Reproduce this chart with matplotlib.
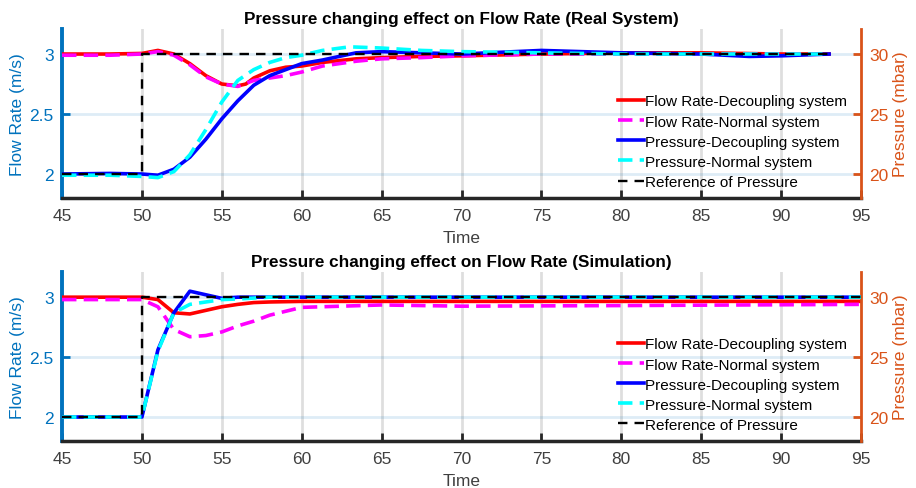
import matplotlib
matplotlib.use("Agg")
import matplotlib.pyplot as plt

plt.rcParams['font.family'] = ['Liberation Sans', 'DejaVu Sans']

# ---------------- Data: Real System ----------------
real_t_frd = [45, 48, 50, 51, 52, 53, 54, 55, 56, 56.5, 57, 58, 59, 60, 61.3, 63.4, 65, 67.5, 70, 75, 80, 85, 90, 93]
real_frd   = [3.0, 3.0, 3.005, 3.03, 3.0, 2.92, 2.82, 2.75, 2.735, 2.75, 2.80, 2.86, 2.89, 2.90, 2.93, 2.96, 2.97, 2.98, 2.985, 3.0, 3.01, 3.01, 3.0, 3.0]

real_t_frn = [45, 48, 50, 51, 52, 53, 54, 55, 56, 57, 58, 59, 60, 61.3, 63.4, 65, 67.5, 70, 75, 80, 85, 90, 93]
real_frn   = [2.99, 2.99, 3.0, 3.02, 2.99, 2.91, 2.81, 2.75, 2.73, 2.78, 2.80, 2.82, 2.85, 2.90, 2.94, 2.96, 2.97, 2.985, 3.0, 3.0, 3.0, 3.0, 3.0]

real_t_pd = [45, 48, 50, 51, 52, 53, 54, 55, 56, 57, 58, 59, 60, 61.3, 63.4, 65, 67.5, 70, 75, 80, 85, 88, 90, 93]
real_pd   = [20.0, 20.05, 20.0, 19.9, 20.4, 21.4, 22.9, 24.6, 26.1, 27.4, 28.2, 28.7, 29.2, 29.5, 30.1, 30.2, 30.1, 30.0, 30.3, 30.1, 30.0, 29.8, 29.85, 30.0]

real_t_pn = [45, 48, 50, 51, 52, 53, 54, 55, 56, 57, 58, 59, 60, 61.3, 63, 65, 67.5, 70, 75, 80, 85, 90, 93]
real_pn   = [19.9, 19.9, 19.8, 19.7, 20.2, 21.6, 23.7, 26.0, 27.8, 28.7, 29.3, 29.7, 29.9, 30.3, 30.6, 30.5, 30.3, 30.2, 30.1, 30.0, 30.0, 30.0, 30.0]

real_t_ref = [45, 50, 50, 93]
real_ref   = [20.0, 20.0, 30.0, 30.0]

# ---------------- Data: Simulation ----------------
sim_t_frd = [45, 50, 51, 52, 53, 54, 55, 56, 57, 58, 60, 70, 80, 95]
sim_frd   = [3.0, 3.0, 2.98, 2.87, 2.86, 2.89, 2.92, 2.94, 2.955, 2.96, 2.965, 2.965, 2.965, 2.965]

sim_t_frn = [45, 50, 51, 52, 53, 54, 55, 56, 57, 58, 60, 65, 70, 80, 95]
sim_frn   = [2.98, 2.98, 2.92, 2.73, 2.67, 2.68, 2.71, 2.76, 2.80, 2.85, 2.915, 2.935, 2.925, 2.93, 2.94]

sim_t_pd = [45, 50, 51, 52, 53, 54, 55, 56, 70, 95]
sim_pd   = [20.0, 20.0, 25.6, 28.7, 30.5, 30.2, 29.9, 30.0, 30.0, 30.0]

sim_t_pn = [45, 50, 51, 52, 53, 54, 55, 56, 58, 70, 95]
sim_pn   = [20.0, 20.0, 25.5, 28.7, 29.4, 29.6, 29.8, 29.85, 30.0, 30.0, 30.0]

sim_t_ref = [45, 50, 50, 95]
sim_ref   = [20.0, 20.0, 30.0, 30.0]

labels = ["Flow Rate-Decoupling system", "Flow Rate-Normal system",
          "Pressure-Decoupling system", "Pressure-Normal system",
          "Reference of Pressure"]
titles = ["Pressure changing effect on Flow Rate (Real System)",
          "Pressure changing effect on Flow Rate (Simulation)"]
xticks = [45, 50, 55, 60, 65, 70, 75, 80, 85, 90, 95]

BLUE_AX = (0, 0.447, 0.741)
ORANGE_AX = (0.85, 0.325, 0.098)

fig = plt.figure(figsize=(9.16, 4.89), dpi=100)
positions = [[0.0677, 0.593, 0.8723, 0.346], [0.0677, 0.0961, 0.8723, 0.3456]]

datasets = [
    (real_t_frd, real_frd, real_t_frn, real_frn, real_t_pd, real_pd, real_t_pn, real_pn, real_t_ref, real_ref),
    (sim_t_frd, sim_frd, sim_t_frn, sim_frn, sim_t_pd, sim_pd, sim_t_pn, sim_pn, sim_t_ref, sim_ref),
]

for i, (pos, d, title) in enumerate(zip(positions, datasets, titles)):
    ax = fig.add_axes(pos)
    ax2 = ax.twinx()
    tfd, fd, tfn, fn, tpd, pd_, tpn, pn, tref, ref = d
    lw = 2.6
    h1, = ax.plot(tfd, fd, color='red', lw=lw, label=labels[0], zorder=3)
    h2, = ax.plot(tfn, fn, color='magenta', lw=lw, ls=(0, (4, 2)), label=labels[1], zorder=3)
    h3, = ax2.plot(tpd, pd_, color='blue', lw=lw, label=labels[2], zorder=3)
    h4, = ax2.plot(tpn, pn, color='cyan', lw=lw, ls=(0, (4, 2)), label=labels[3], zorder=4)
    h5, = ax2.plot(tref, ref, color='black', lw=1.7, ls=(0, (4, 3)), label=labels[4], zorder=5)

    ax.set_xlim(45, 95)
    ax.set_ylim(1.8, 3.21)
    ax2.set_ylim(18, 32.1)
    ax.set_xticks(xticks)
    ax.set_yticks([2, 2.5, 3])
    ax.set_yticklabels(['2', '2.5', '3'])
    ax2.set_yticks([20, 25, 30])

    # grids
    for x in xticks[1:-1]:
        ax.axvline(x, color='0.15', alpha=0.15, lw=2, zorder=0)
    for y in [2, 2.5, 3]:
        ax.axhline(y, color=BLUE_AX, alpha=0.13, lw=2, zorder=0)

    for a in (ax, ax2):
        a.spines['top'].set_visible(False)
        a.set_facecolor('none')
    ax2.spines['left'].set_visible(False)
    ax2.spines['bottom'].set_visible(False)
    ax.spines['right'].set_visible(False)
    ax.spines['left'].set_color(BLUE_AX)
    ax.spines['left'].set_linewidth(2.8)
    ax.spines['bottom'].set_color('0.15')
    ax.spines['bottom'].set_linewidth(2.5)
    ax2.spines['right'].set_color(ORANGE_AX)
    ax2.spines['right'].set_linewidth(2)

    ax.tick_params(axis='x', direction='in', length=6, width=2, colors='0.15',
                   labelsize=12.5, labelcolor='0.25', pad=7)
    ax.tick_params(axis='y', direction='in', length=6, width=2, colors=BLUE_AX,
                   labelsize=12.5, labelcolor=BLUE_AX, pad=6)
    ax2.tick_params(axis='y', direction='in', length=6, width=2, colors=ORANGE_AX,
                    labelsize=12.5, labelcolor=ORANGE_AX, pad=6)

    ax.set_xlabel('Time', fontsize=12.5, color='0.25', labelpad=5)
    ax.set_ylabel('Flow Rate (m/s)', fontsize=12.5, color=BLUE_AX, labelpad=3)
    ax2.set_ylabel('Pressure (mbar)', fontsize=12.5, color=ORANGE_AX, labelpad=3)
    ax.set_title(title, fontsize=12.3, fontweight='bold', pad=4)

    leg = ax2.legend(handles=[h1, h2, h3, h4, h5], loc='lower right',
                     bbox_to_anchor=(0.994, 0.0), frameon=False, fontsize=11,
                     handlelength=1.7, handletextpad=0.1, labelspacing=0.4,
                     borderaxespad=0.2)
    leg.set_zorder(10)

fig.savefig('out.png', dpi=100)
